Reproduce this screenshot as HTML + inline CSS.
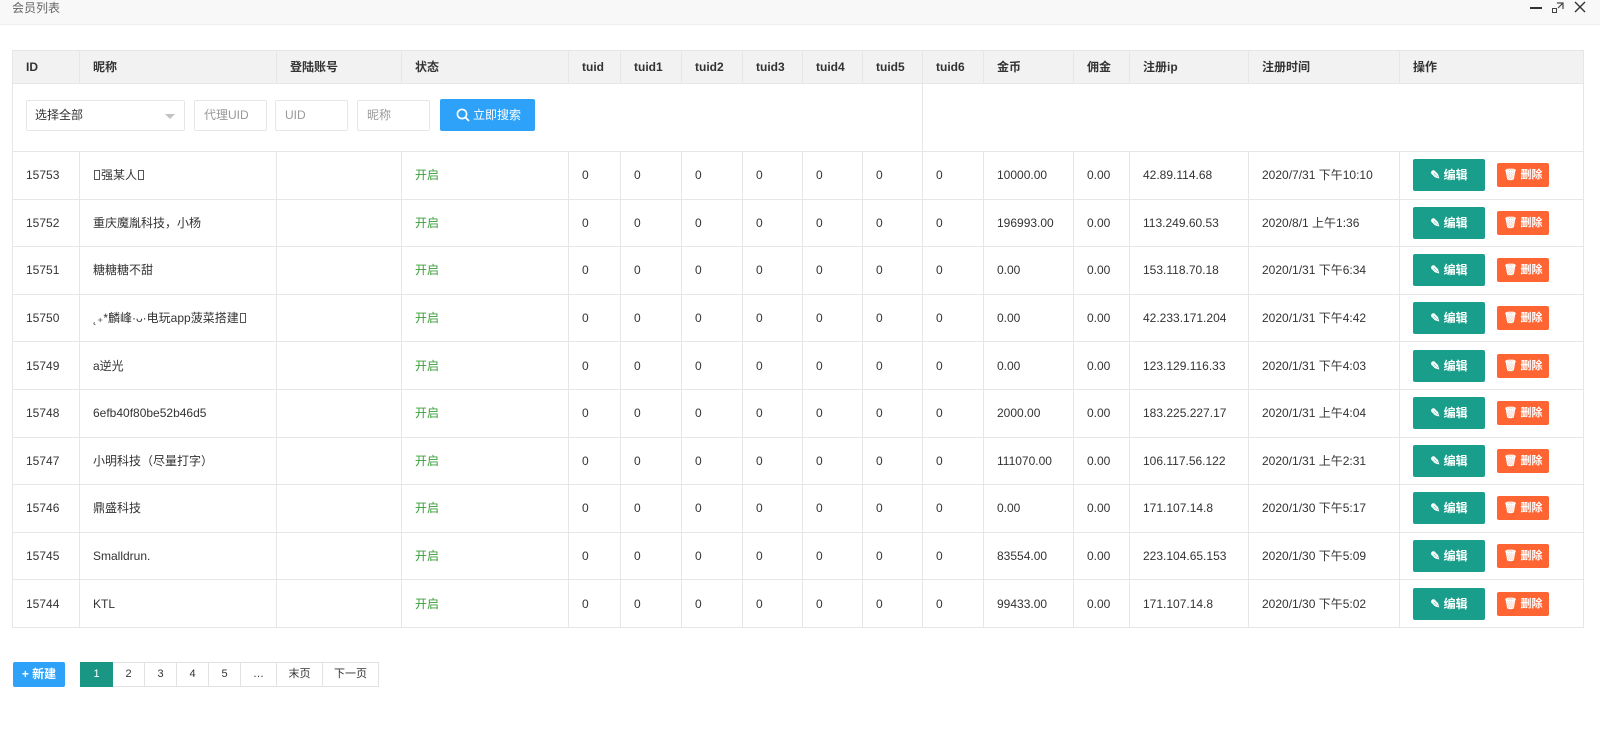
<!DOCTYPE html>
<html>
<head>
<meta charset="utf-8">
<style>
  html,body{margin:0;padding:0;background:#fff;}
  body{width:1600px;height:751px;position:relative;overflow:hidden;
    font-family:"Liberation Sans","Noto Sans CJK SC",sans-serif;font-size:12px;color:#333;}
  .titlebar{position:absolute;left:0;top:0;width:1600px;height:24px;background:#f8f8f8;border-bottom:1px solid #eee;}
  .titlebar .t{position:absolute;left:12px;top:-1px;line-height:18px;font-size:12px;color:#666;}
  .ic{position:absolute;}
  table{position:absolute;left:12px;top:50px;border-collapse:collapse;table-layout:fixed;width:1571px;}
  td,th{border:1px solid #e6e6e6;padding:0 0 0 13px;text-align:left;white-space:nowrap;overflow:hidden;line-height:16px;vertical-align:middle;}
  th{background:#f2f2f2;height:32px;font-weight:bold;color:#333;font-size:12px;}
  tr.sr td{height:67px;position:relative;padding:0;}
  tr.d td{height:46.6px;}
  .on{color:#3a9e3a;}
  .sel,.inp{position:absolute;top:16px;height:29px;border:1px solid #e6e6e6;border-radius:2px;background:#fff;box-sizing:border-box;}
  .sel{left:13px;width:159px;height:31px;}
  .sel span{position:absolute;left:8px;top:0;line-height:29px;color:#333;}
  .sel i{position:absolute;right:9px;top:13px;width:0;height:0;border-left:5px solid transparent;border-right:5px solid transparent;border-top:5px solid #c2c2c2;}
  .inp{height:31px;width:73px;}
  .inp span{position:absolute;left:9px;top:0;line-height:29px;color:#999;}
  .sbtn{position:absolute;left:427px;top:15px;width:95px;height:32px;background:#2ea2f8;border-radius:2px;color:#fff;line-height:32px;font-size:12px;}
  .ebtn{display:inline-block;vertical-align:middle;width:72px;height:32px;line-height:32px;background:#1a9e8c;color:#fff;border-radius:2px;text-align:center;font-weight:bold;}
  .dbtn{display:inline-block;vertical-align:middle;width:52px;height:24px;line-height:24px;background:#ff6533;color:#fff;border-radius:2px;text-align:center;margin-left:12px;font-weight:bold;font-size:11px;}
  .tofu{display:inline-block;width:4px;height:8px;border:1px solid #555;vertical-align:-1px;margin:0 1px;}
  .nbtn{position:absolute;left:13px;top:662px;width:52px;height:25px;background:#2ea2f8;border-radius:2px;color:#fff;line-height:25px;text-align:center;font-weight:bold;font-size:12px;}
  .pg{position:absolute;left:80px;top:662px;height:25px;display:flex;}
  .pg span{display:block;height:23px;line-height:23px;border:1px solid #e2e2e2;border-left:none;text-align:center;color:#333;font-size:11px;}
  .pg span:first-child{border:1px solid #1a9684;background:#1a9684;color:#fff;}
</style>
</head>
<body>
<div class="titlebar">
  <div class="t">会员列表</div>
  <div class="ic" style="left:1530px;top:7px;width:12px;height:2px;background:#333;"></div>
  <svg class="ic" style="left:1551px;top:1px" width="14" height="14"><path d="M6 2 H12 V8 M12 2 L7 7" stroke="#444" fill="none" stroke-width="1.2"/><rect x="1.5" y="7.5" width="4" height="4" fill="none" stroke="#444"/></svg>
  <svg class="ic" style="left:1574px;top:1px" width="12" height="12"><path d="M1 1 L11 11 M11 1 L1 11" stroke="#333" stroke-width="1.4"/></svg>
</div>

<table>
  <colgroup>
    <col style="width:67px"><col style="width:197px"><col style="width:125px"><col style="width:167px">
    <col style="width:52px"><col style="width:61px"><col style="width:61px"><col style="width:60px">
    <col style="width:60px"><col style="width:60px"><col style="width:61px"><col style="width:90px">
    <col style="width:56px"><col style="width:119px"><col style="width:151px"><col style="width:184px">
  </colgroup>
  <tr>
    <th>ID</th><th>昵称</th><th>登陆账号</th><th>状态</th><th>tuid</th><th>tuid1</th><th>tuid2</th><th>tuid3</th><th>tuid4</th><th>tuid5</th><th>tuid6</th><th>金币</th><th>佣金</th><th>注册ip</th><th>注册时间</th><th>操作</th>
  </tr>
  <tr class="sr">
    <td colspan="10">
      <div class="sel"><span>选择全部</span><i></i></div>
      <div class="inp" style="left:181px"><span>代理UID</span></div>
      <div class="inp" style="left:262px"><span>UID</span></div>
      <div class="inp" style="left:344px"><span>昵称</span></div>
      <div class="sbtn"><svg style="position:absolute;left:16px;top:9px" width="14" height="14"><circle cx="6" cy="6" r="4.6" stroke="#fff" stroke-width="1.6" fill="none"/><path d="M9.4 9.4 L13 13" stroke="#fff" stroke-width="1.8"/></svg><span style="position:absolute;left:33px;top:0;">立即搜索</span></div>
    </td>
    <td colspan="6"></td>
  </tr>
  <tr class="d"><td>15753</td><td><span class="tofu"></span>强某人<span class="tofu"></span></td><td></td><td class="on">开启</td><td>0</td><td>0</td><td>0</td><td>0</td><td>0</td><td>0</td><td>0</td><td>10000.00</td><td>0.00</td><td>42.89.114.68</td><td>2020/7/31 下午10:10</td><td><span class="ebtn">✎ 编辑</span><span class="dbtn">🗑 删除</span></td></tr>
  <tr class="d"><td>15752</td><td>重庆魔胤科技，小杨</td><td></td><td class="on">开启</td><td>0</td><td>0</td><td>0</td><td>0</td><td>0</td><td>0</td><td>0</td><td>196993.00</td><td>0.00</td><td>113.249.60.53</td><td>2020/8/1 上午1:36</td><td><span class="ebtn">✎ 编辑</span><span class="dbtn">🗑 删除</span></td></tr>
  <tr class="d"><td>15751</td><td>糖糖糖不甜</td><td></td><td class="on">开启</td><td>0</td><td>0</td><td>0</td><td>0</td><td>0</td><td>0</td><td>0</td><td>0.00</td><td>0.00</td><td>153.118.70.18</td><td>2020/1/31 下午6:34</td><td><span class="ebtn">✎ 编辑</span><span class="dbtn">🗑 删除</span></td></tr>
  <tr class="d"><td>15750</td><td>˛₊*麟峰·ᴗ·电玩app菠菜搭建<span class="tofu"></span></td><td></td><td class="on">开启</td><td>0</td><td>0</td><td>0</td><td>0</td><td>0</td><td>0</td><td>0</td><td>0.00</td><td>0.00</td><td>42.233.171.204</td><td>2020/1/31 下午4:42</td><td><span class="ebtn">✎ 编辑</span><span class="dbtn">🗑 删除</span></td></tr>
  <tr class="d"><td>15749</td><td>a逆光</td><td></td><td class="on">开启</td><td>0</td><td>0</td><td>0</td><td>0</td><td>0</td><td>0</td><td>0</td><td>0.00</td><td>0.00</td><td>123.129.116.33</td><td>2020/1/31 下午4:03</td><td><span class="ebtn">✎ 编辑</span><span class="dbtn">🗑 删除</span></td></tr>
  <tr class="d"><td>15748</td><td>6efb40f80be52b46d5</td><td></td><td class="on">开启</td><td>0</td><td>0</td><td>0</td><td>0</td><td>0</td><td>0</td><td>0</td><td>2000.00</td><td>0.00</td><td>183.225.227.17</td><td>2020/1/31 上午4:04</td><td><span class="ebtn">✎ 编辑</span><span class="dbtn">🗑 删除</span></td></tr>
  <tr class="d"><td>15747</td><td>小明科技（尽量打字）</td><td></td><td class="on">开启</td><td>0</td><td>0</td><td>0</td><td>0</td><td>0</td><td>0</td><td>0</td><td>111070.00</td><td>0.00</td><td>106.117.56.122</td><td>2020/1/31 上午2:31</td><td><span class="ebtn">✎ 编辑</span><span class="dbtn">🗑 删除</span></td></tr>
  <tr class="d"><td>15746</td><td>鼎盛科技</td><td></td><td class="on">开启</td><td>0</td><td>0</td><td>0</td><td>0</td><td>0</td><td>0</td><td>0</td><td>0.00</td><td>0.00</td><td>171.107.14.8</td><td>2020/1/30 下午5:17</td><td><span class="ebtn">✎ 编辑</span><span class="dbtn">🗑 删除</span></td></tr>
  <tr class="d"><td>15745</td><td>Smalldrun.</td><td></td><td class="on">开启</td><td>0</td><td>0</td><td>0</td><td>0</td><td>0</td><td>0</td><td>0</td><td>83554.00</td><td>0.00</td><td>223.104.65.153</td><td>2020/1/30 下午5:09</td><td><span class="ebtn">✎ 编辑</span><span class="dbtn">🗑 删除</span></td></tr>
  <tr class="d"><td>15744</td><td>KTL</td><td></td><td class="on">开启</td><td>0</td><td>0</td><td>0</td><td>0</td><td>0</td><td>0</td><td>0</td><td>99433.00</td><td>0.00</td><td>171.107.14.8</td><td>2020/1/30 下午5:02</td><td><span class="ebtn">✎ 编辑</span><span class="dbtn">🗑 删除</span></td></tr>
</table>

<div class="nbtn">+ 新建</div>
<div class="pg">
  <span style="width:31px">1</span>
  <span style="width:31px">2</span>
  <span style="width:31px">3</span>
  <span style="width:31px">4</span>
  <span style="width:31px">5</span>
  <span style="width:35px">…</span>
  <span style="width:45px">末页</span>
  <span style="width:55px">下一页</span>
</div>
</body>
</html>
